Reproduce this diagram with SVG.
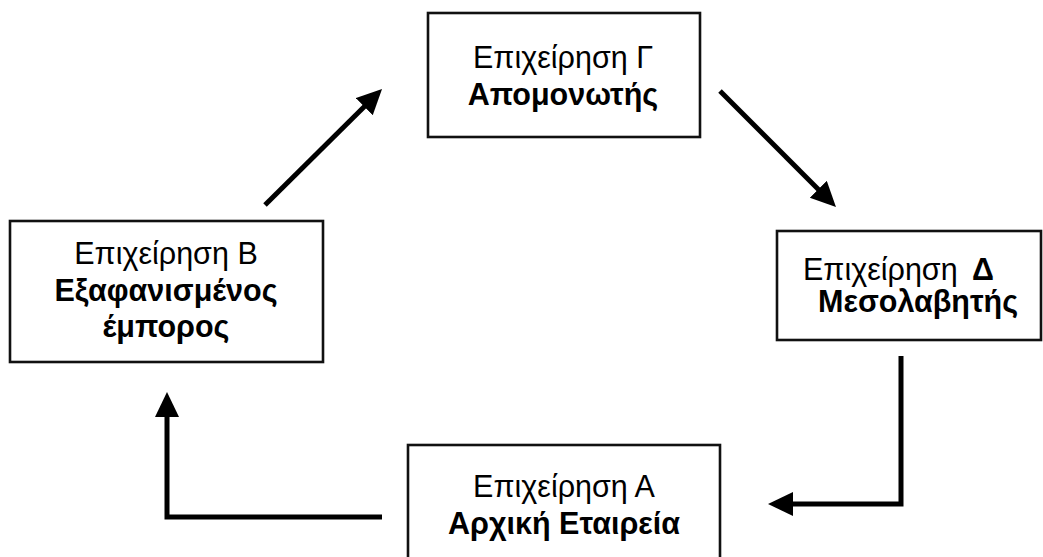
<svg xmlns="http://www.w3.org/2000/svg" width="1043" height="557" viewBox="0 0 1043 557">
  <style>
    .box { fill: #ffffff; stroke: #111111; stroke-width: 2.6; }
    .lbl { font-family: "Liberation Sans", Arial, Helvetica, sans-serif; font-size: 30.5px; fill: #000000; }
    .c { text-anchor: middle; }
    .b { font-weight: bold; }
    .link { fill: none; stroke: #000000; stroke-width: 5; stroke-linejoin: miter; stroke-linecap: butt; marker-end: url(#head); }
  </style>
  <defs>
    <marker id="head" markerUnits="userSpaceOnUse" markerWidth="26" markerHeight="26" viewBox="0 0 26 26" refX="2" refY="12" orient="auto">
      <path d="M0,0 L25,12 L0,24 Z" fill="#000000"/>
    </marker>
  </defs>

  <rect width="1043" height="557" fill="#ffffff"/>

  <!-- Company C: isolator -->
  <g id="node-gamma">
    <rect class="box" x="428" y="13" width="272" height="124"/>
    <text class="lbl c" x="563" y="68">Επιχείρηση Γ</text>
    <text class="lbl c b" x="563" y="105">Απομονωτής</text>
  </g>

  <!-- Company B: vanished trader -->
  <g id="node-beta">
    <rect class="box" x="10" y="221" width="313" height="141"/>
    <text class="lbl c" x="166" y="264">Επιχείρηση Β</text>
    <text class="lbl c b" x="166" y="301">Εξαφανισμένος</text>
    <text class="lbl c b" x="166" y="337">έμπορος</text>
  </g>

  <!-- Company D: intermediary -->
  <g id="node-delta">
    <rect class="box" x="777" y="231" width="264" height="109"/>
    <text class="lbl" x="803" y="280">Επιχείρηση <tspan class="b" x="972">Δ</tspan></text>
    <text class="lbl b" x="818" y="312">Μεσολαβητής</text>
  </g>

  <!-- Company A: original firm -->
  <g id="node-alpha">
    <rect class="box" x="408" y="445" width="312" height="130"/>
    <text class="lbl c" x="564" y="497">Επιχείρηση Α</text>
    <text class="lbl c b" x="564" y="534">Αρχική Εταιρεία</text>
  </g>

  <!-- Cycle connectors: A → B → Γ → Δ → A -->
  <g id="connectors">
    <path class="link" d="M382,517 H167 V415"/>
    <path class="link" d="M265,205 L365.7,105.2"/>
    <path class="link" d="M720,91 L819.7,190.7"/>
    <path class="link" d="M901,356 V504 H791"/>
  </g>
</svg>
